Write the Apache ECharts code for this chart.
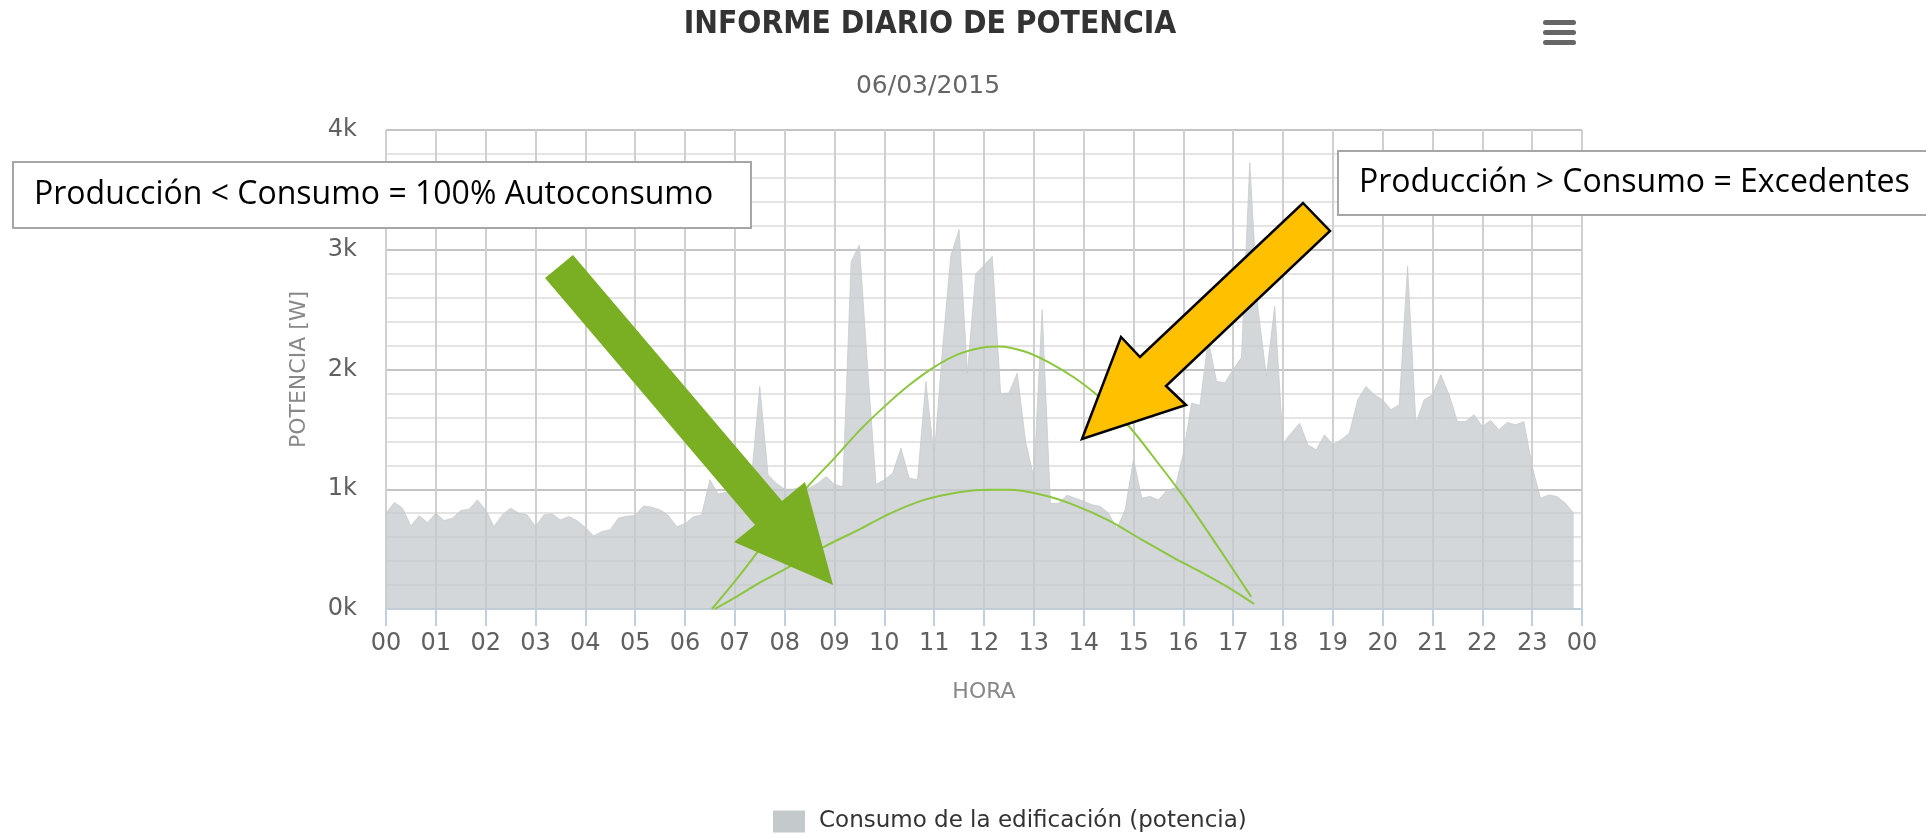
<!DOCTYPE html>
<html>
<head>
<meta charset="utf-8">
<title>Informe diario de potencia</title>
<script src="https://cdn.jsdelivr.net/npm/echarts@6/dist/echarts.min.js"></script>
<style>
  html, body { margin: 0; padding: 0; background: #fff; }
  #chart { width: 1926px; height: 834px; }
</style>
</head>
<body>
<div id="chart"></div>
<script>
// consumo cada 10 minutos, 00:00 -> 23:50 (W)
var consumo = [
  800, 889, 842, 694, 778, 722, 800, 738, 758, 822, 833, 911,
  828, 688, 786, 842, 800, 786, 688, 786, 794, 744, 772, 738,
  680, 610, 647, 662, 760, 775, 780, 861, 850, 828, 780, 688,
  712, 770, 786, 1079, 960, 975, 990, 1010, 1090, 1860, 1120, 1050,
  1000, 1000, 1020, 1010, 1050, 1106, 1040, 1020, 2900, 3040, 2000, 1040,
  1079, 1134, 1343, 1092, 1079, 1900, 1270, 2165, 2950, 3169, 1970, 2800,
  2870, 2946, 1800, 1803, 1970, 1400, 1100, 2500, 880, 883, 950, 925,
  900, 870, 856, 800, 670, 830, 1250, 925, 940, 911, 990, 1010,
  1300, 1720, 1700, 2250, 1900, 1890, 2000, 2100, 3726, 2500, 1943, 2528,
  1385, 1470, 1552, 1371, 1329, 1455, 1371, 1413, 1469, 1747, 1859, 1789,
  1747, 1664, 1706, 2862, 1552, 1747, 1789, 1956, 1789, 1566, 1566, 1622,
  1524, 1575, 1497, 1558, 1538, 1566, 1190, 925, 953, 939, 883, 800
]
var pasoHoras = 1 / 6

// curvas de produccion dibujadas encima (hora, W)
var prodAltaHoras = [6.54, 7.0, 7.5, 8.0, 8.5, 9.0, 9.5, 10.0, 10.5, 11.0, 11.5, 12.0, 12.3, 12.8, 13.3, 13.8, 14.3, 14.9, 15.5, 16.0, 16.5, 17.0, 17.36]
var prodAltaW = [0, 230, 500, 790, 1040, 1260, 1490, 1690, 1870, 2020, 2130, 2186, 2192, 2152, 2060, 1935, 1775, 1530, 1215, 940, 640, 330, 103]
var prodBajaHoras = [6.6, 7.0, 7.5, 8.1, 8.8, 9.5, 10.1, 10.8, 11.5, 12.1, 12.5, 13.2, 13.8, 14.5, 15.2, 15.8, 16.3, 16.9, 17.42]
var prodBajaW = [0, 95, 220, 354, 521, 665, 795, 911, 975, 995, 995, 950, 870, 740, 570, 430, 320, 180, 42]

var yTicks = [0, 1000, 2000, 3000, 4000]
var nombreSerie = 'Consumo de la edificación (potencia)'

var chart = echarts.init(document.getElementById('chart'))

var dataConsumo = consumo.map(function (v, i) { return [i * pasoHoras, v] })
var dataAlta = prodAltaHoras.map(function (h, i) { return [h, prodAltaW[i]] })
var dataBaja = prodBajaHoras.map(function (h, i) { return [h, prodBajaW[i]] })

function zeroPadding (num) {
  return ('0' + (num % 24)).slice(-2)
}

var fontEje = 'DejaVu Sans'
var fontCaja = 'Open Sans'

var option = {
  animation: false,
  title: [
    {
      text: 'INFORME DIARIO DE POTENCIA',
      left: 925,
      top: 4,
      textAlign: 'center',
      textStyle: { fontFamily: 'DejaVu Sans Condensed', fontWeight: 'bold', fontSize: 31.5, color: '#333' }
    },
    {
      text: '06/03/2015',
      left: 923,
      top: 69,
      textAlign: 'center',
      textStyle: { fontFamily: fontEje, fontWeight: 'normal', fontSize: 25, color: '#666' }
    }
  ],
  legend: {
    data: [nombreSerie],
    left: 773,
    top: 810,
    padding: 0,
    icon: 'rect',
    itemWidth: 32,
    itemHeight: 22,
    selectedMode: false,
    textStyle: { fontFamily: fontEje, fontSize: 23, color: '#333', padding: [0, 0, 0, 9] }
  },
  grid: { left: 386, right: 344, top: 130, bottom: 225 },
  xAxis: {
    type: 'value',
    min: 0,
    max: 24,
    interval: 1,
    name: 'HORA',
    nameLocation: 'middle',
    nameGap: 72,
    nameTextStyle: { fontFamily: fontEje, fontSize: 22, color: '#888' },
    axisLine: { show: true, lineStyle: { color: '#c0d0e0', width: 2 } },
    axisTick: { show: true, length: 17, lineStyle: { color: '#c0d0e0', width: 2 } },
    axisLabel: {
      margin: 23,
      fontFamily: fontEje,
      fontSize: 24,
      color: '#606060',
      formatter: function (v) { return zeroPadding(v) }
    },
    splitLine: { show: true, lineStyle: { color: '#d0d0d0', width: 2 } }
  },
  yAxis: {
    type: 'value',
    min: yTicks[0],
    max: yTicks[yTicks.length - 1],
    interval: 1000,
    name: 'POTENCIA [W]',
    nameLocation: 'middle',
    nameRotate: 90,
    nameGap: 76,
    nameTextStyle: { fontFamily: fontEje, fontSize: 22, color: '#888' },
    axisLine: { show: false },
    axisTick: { show: false },
    axisLabel: {
      margin: 29,
      fontFamily: fontEje,
      fontSize: 24,
      color: '#606060',
      padding: [0, 0, 8, 0],
      formatter: function (v) { return (v / 1000) + 'k' }
    },
    splitLine: { show: true, lineStyle: { color: '#c4c4c4', width: 2 } },
    minorTick: { show: false, splitNumber: 5 },
    minorSplitLine: { show: true, lineStyle: { color: '#e4e4e4', width: 2 } }
  },
  series: [
    {
      name: nombreSerie,
      type: 'line',
      data: dataConsumo,
      color: '#c4c9cc',
      symbol: 'none',
      lineStyle: { width: 1, color: 'rgba(196,201,204,0.75)' },
      areaStyle: { opacity: 0.75 },
      z: 2
    },
    {
      name: 'prodAlta',
      type: 'line',
      data: dataAlta,
      smooth: 0.3,
      symbol: 'none',
      lineStyle: { width: 2, color: '#8cc63f' },
      z: 3
    },
    {
      name: 'prodBaja',
      type: 'line',
      data: dataBaja,
      smooth: 0.3,
      symbol: 'none',
      lineStyle: { width: 2, color: '#8cc63f' },
      z: 3
    }
  ],
  graphic: [
    // menu
    { type: 'rect', shape: { x: 1543, y: 20, width: 33, height: 5, r: 2.5 }, style: { fill: '#666' }, z: 100 },
    { type: 'rect', shape: { x: 1543, y: 30, width: 33, height: 5, r: 2.5 }, style: { fill: '#666' }, z: 100 },
    { type: 'rect', shape: { x: 1543, y: 40, width: 33, height: 5, r: 2.5 }, style: { fill: '#666' }, z: 100 },
    // cajas de texto
    { type: 'rect', shape: { x: 13, y: 162, width: 738, height: 66 }, style: { fill: '#fff', stroke: '#a6a6a6', lineWidth: 2 }, z: 100 },
    {
      type: 'text', x: 34, y: 195, z: 101,
      style: { text: 'Producción < Consumo = 100% Autoconsumo', fontFamily: fontCaja, fontSize: 32, fill: '#000', verticalAlign: 'middle' }
    },
    { type: 'rect', shape: { x: 1338, y: 151, width: 600, height: 64 }, style: { fill: '#fff', stroke: '#a6a6a6', lineWidth: 2 }, z: 100 },
    {
      type: 'text', x: 1359, y: 183, z: 101,
      style: { text: 'Producción > Consumo = Excedentes', fontFamily: fontCaja, fontSize: 32, fill: '#000', verticalAlign: 'middle' }
    },
    // flechas
    {
      type: 'polygon', z: 100,
      shape: { points: [[573, 255], [782, 501], [805, 482], [833, 585], [734, 542], [755, 525], [545, 278]] },
      style: { fill: '#7aaf23' }
    },
    {
      type: 'polygon', z: 100,
      shape: { points: [[1303, 203], [1330, 231], [1166, 386], [1186, 405], [1082, 439], [1121, 337], [1140, 357]] },
      style: { fill: '#ffc000', stroke: '#000', lineWidth: 2.5, lineJoin: 'miter' }
    }
  ]
}

chart.setOption(option)
</script>
</body>
</html>
